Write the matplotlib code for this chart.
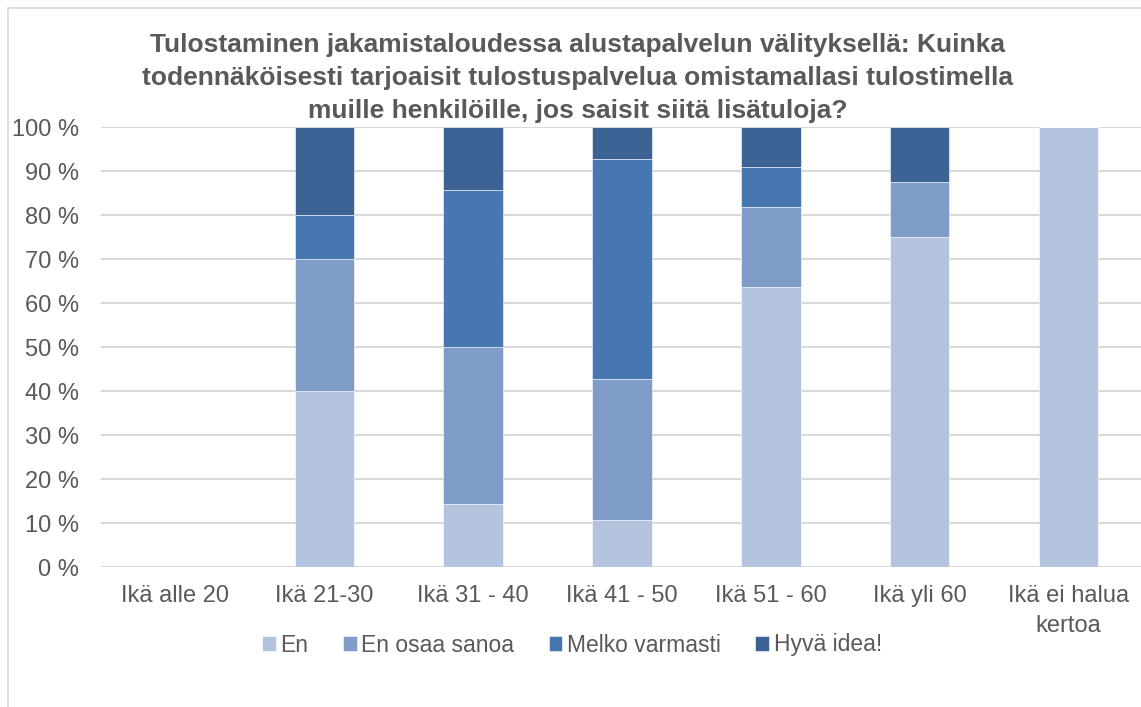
import numpy as np
import matplotlib.pyplot as plt
from matplotlib.patches import Rectangle
from matplotlib.ticker import FuncFormatter

plt.rcParams['font.family'] = ['Liberation Sans', 'DejaVu Sans']

# Data (percent of answers per age group)
categories = ['Ikä alle 20', 'Ikä 21-30', 'Ikä 31 - 40', 'Ikä 41 - 50',
              'Ikä 51 - 60', 'Ikä yli 60', 'Ikä ei halua\nkertoa']
en = [0, 40, 14.3, 10.7, 63.6, 75, 100]
en_osaa_sanoa = [0, 30, 35.7, 32.1, 18.2, 12.5, 0]
melko_varmasti = [0, 10, 35.7, 50, 9.1, 0, 0]
hyva_idea = [0, 20, 14.3, 7.1, 9.1, 12.5, 0]

series = [('En', en, '#b4c3de'),
          ('En osaa sanoa', en_osaa_sanoa, '#7f9cc8'),
          ('Melko varmasti', melko_varmasti, '#4777b0'),
          ('Hyvä idea!', hyva_idea, '#3b6495')]

fig = plt.figure(figsize=(11.41, 7.07), dpi=100)
# chart frame
fig.patches.append(Rectangle((8 / 1141, -0.1), 1.2, 1 - 8 / 707 + 0.1,
                             transform=fig.transFigure, fill=False,
                             edgecolor='#d9d9d9', linewidth=1.2))

ax = fig.add_axes([101 / 1141, 1 - 567 / 707, 1042 / 1141, 440 / 707])

x = np.arange(len(categories))
bottom = np.zeros(len(categories))
for name, vals, col in series:
    vals = np.array(vals)
    ax.bar(x, vals, 0.4, bottom=bottom, color=col, label=name,
           edgecolor='white', linewidth=0.4, zorder=3)
    bottom += vals

ax.set_xlim(-0.5, len(categories) - 0.5)
ax.set_ylim(0, 100)
ax.set_yticks(range(0, 101, 10))
ax.yaxis.set_major_formatter(FuncFormatter(lambda v, p: f'{int(v)} %'))
ax.set_xticks(x)
ax.set_xticklabels(categories, linespacing=1.45)
ax.tick_params(axis='both', length=0, labelsize=17, colors='#595959')
ax.tick_params(axis='x', pad=13)
ax.tick_params(axis='y', pad=16)
ax.grid(axis='y', color='#d9d9d9', linewidth=1.5, zorder=0)
for s in ax.spines.values():
    s.set_visible(False)

fig.text(578 / 1141, 1 - 78 / 707,
         'Tulostaminen jakamistaloudessa alustapalvelun välityksellä: Kuinka\n'
         'todennäköisesti tarjoaisit tulostuspalvelua omistamallasi tulostimella\n'
         'muille henkilöille, jos saisit siitä lisätuloja?',
         ha='center', va='center', fontsize=19, fontweight='bold',
         color='#595959', linespacing=1.45)

fig.legend(loc='center', bbox_to_anchor=(572 / 1141, 1 - 645 / 707), ncol=4,
           frameon=False, fontsize=16.5, handlelength=0.6, handleheight=0.6,
           handletextpad=0.2, columnspacing=1.5, labelcolor='#595959')

fig.savefig('out.png', dpi=100)
